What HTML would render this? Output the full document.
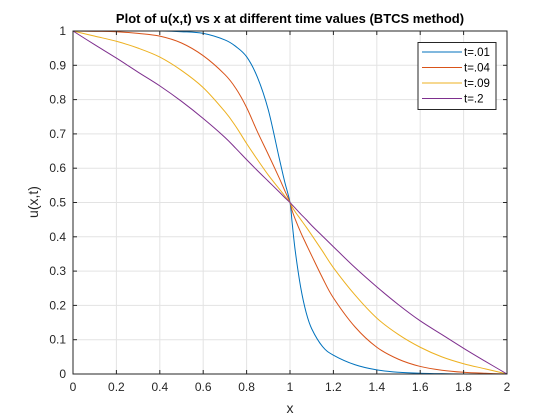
<!DOCTYPE html>
<html><head><meta charset="utf-8"><style>
body{margin:0;background:#fff;}
svg{display:block;font-family:"Liberation Sans",Arial,sans-serif;}
</style></head><body>
<svg id="chart" width="560" height="420" viewBox="0 0 560 420" xmlns="http://www.w3.org/2000/svg">
<rect width="560" height="420" fill="#fff"/>
<g id="grid"></g>
<g id="series"></g>
<g id="axes"></g>
<text x="290" y="23" text-anchor="middle" font-size="13" font-weight="bold" fill="#000">Plot of u(x,t) vs x at different time values (BTCS method)</text>
<text x="290" y="413" text-anchor="middle" font-size="14" fill="#262626">x</text>
<text transform="translate(38,202) rotate(-90)" text-anchor="middle" font-size="14" fill="#262626">u(x,t)</text>
<g id="legend"></g>
</svg>
<script>
const xs = [0,0.1,0.2,0.3,0.4,0.5,0.6,0.7,0.75,0.8,0.85,0.9,0.95,0.975,1,1.01,1.025,1.05,1.075,1.1,1.15,1.2,1.3,1.4,1.5,1.6,1.7,1.8,1.9,2];
const seriesNames = ["t=.01","t=.04","t=.09","t=.2"];
const u01 = [1,1,1,1,1,0.998,0.993,0.974,0.955,0.925,0.865,0.77,0.63,0.562,0.5,0.44,0.355,0.25,0.178,0.132,0.08,0.055,0.027,0.012,0.005,0.002,0.001,0,0,0];
const u04 = [1,0.999,0.998,0.993,0.985,0.965,0.928,0.873,0.833,0.777,0.706,0.64,0.572,0.536,0.5,0.476,0.45,0.412,0.378,0.345,0.28,0.222,0.137,0.078,0.043,0.022,0.011,0.005,0.002,0];
const u09 = [1,0.985,0.97,0.95,0.924,0.885,0.835,0.765,0.722,0.672,0.625,0.58,0.54,0.52,0.5,0.487,0.472,0.45,0.428,0.405,0.358,0.31,0.23,0.163,0.115,0.078,0.05,0.03,0.015,0];
const u2 = [1,0.96,0.921,0.88,0.84,0.795,0.745,0.69,0.658,0.625,0.593,0.562,0.531,0.515,0.5,0.493,0.483,0.466,0.45,0.433,0.402,0.371,0.31,0.254,0.202,0.155,0.115,0.075,0.037,0];
const xTicks = ["0","0.2","0.4","0.6","0.8","1","1.2","1.4","1.6","1.8","2"];
const yTicks = ["0","0.1","0.2","0.3","0.4","0.5","0.6","0.7","0.8","0.9","1"];

const L=73,R=507,T=31,B=374;
const sx=v=>L+(v-0)/(2-0)*(R-L);
const sy=v=>B-(v-0)/(1-0)*(B-T);
const NS='http://www.w3.org/2000/svg';
function mk(tag,parent){const e=document.createElementNS(NS,tag);parent.appendChild(e);return e;}
const grid=document.getElementById('grid'),axes=document.getElementById('axes'),ser=document.getElementById('series'),leg=document.getElementById('legend');

xTicks.forEach(t=>{
  const v=parseFloat(t),x=sx(v);
  const g=mk('line',grid);
  
  
  g.setAttribute('x1',x);g.setAttribute('x2',x);g.setAttribute('y1',T);g.setAttribute('y2',B);g.setAttribute('stroke','#e3e3e3');
  [[B,B-4],[T,T+4]].forEach(p=>{const k=mk('line',axes);
    
    
    k.setAttribute('x1',x);k.setAttribute('x2',x);k.setAttribute('y1',p[0]);k.setAttribute('y2',p[1]);k.setAttribute('stroke','#262626');});
  const tx=mk('text',axes);
  
  
  tx.setAttribute('x',x);tx.setAttribute('y',B+17);tx.setAttribute('text-anchor','middle');tx.setAttribute('font-size','12');tx.setAttribute('fill','#262626');tx.textContent=t;
});
yTicks.forEach(t=>{
  const v=parseFloat(t),y=sy(v);
  const g=mk('line',grid);
  
  
  g.setAttribute('x1',L);g.setAttribute('x2',R);g.setAttribute('y1',y);g.setAttribute('y2',y);g.setAttribute('stroke','#e3e3e3');
  [[L,L+4],[R,R-4]].forEach(p=>{const k=mk('line',axes);
    
    
    k.setAttribute('x1',p[0]);k.setAttribute('x2',p[1]);k.setAttribute('y1',y);k.setAttribute('y2',y);k.setAttribute('stroke','#262626');});
  const tx=mk('text',axes);
  
  
  tx.setAttribute('x',L-7);tx.setAttribute('y',y+4);tx.setAttribute('text-anchor','end');tx.setAttribute('font-size','12');tx.setAttribute('fill','#262626');tx.textContent=t;
});
const box=mk('rect',axes);


box.setAttribute('x',L);box.setAttribute('y',T);box.setAttribute('width',R-L);box.setAttribute('height',B-T);box.setAttribute('fill','none');box.setAttribute('stroke','#262626');

function smoothPath(pts){
  let d='M'+pts[0][0].toFixed(2)+','+pts[0][1].toFixed(2);
  for(let i=0;i<pts.length-1;i++){
    const p0=pts[Math.max(0,i-1)],p1=pts[i],p2=pts[i+1],p3=pts[Math.min(pts.length-1,i+2)];
    const c1x=p1[0]+(p2[0]-p0[0])/6,c1y=p1[1]+(p2[1]-p0[1])/6;
    const c2x=p2[0]-(p3[0]-p1[0])/6,c2y=p2[1]-(p3[1]-p1[1])/6;
    d+=' C'+c1x.toFixed(2)+','+c1y.toFixed(2)+' '+c2x.toFixed(2)+','+c2y.toFixed(2)+' '+p2[0].toFixed(2)+','+p2[1].toFixed(2);
  }
  return d;
}
const data=[u01,u04,u09,u2];
const colors=['#0072BD','#D95319','#EDB120','#7E2F8E'];
data.forEach((arr,i)=>{
  const p=mk('path',ser);
  
  
  p.setAttribute('d',smoothPath(arr.map((v,j)=>[sx(xs[j]),sy(v)])));
  p.setAttribute('fill','none');p.setAttribute('stroke',colors[i]);p.setAttribute('stroke-width','1');p.setAttribute('stroke-linejoin','round');
});

const lb=mk('rect',leg);


lb.setAttribute('x',418);lb.setAttribute('y',42.5);lb.setAttribute('width',78);lb.setAttribute('height',67);lb.setAttribute('fill','#fff');lb.setAttribute('stroke','#262626');
seriesNames.forEach((n,i)=>{
  const y=52+i*15.5;
  const l=mk('line',leg);
  
  
  l.setAttribute('x1',422);l.setAttribute('x2',462);l.setAttribute('y1',y);l.setAttribute('y2',y);l.setAttribute('stroke',colors[i]);
  const t=mk('text',leg);
  
  
  t.setAttribute('x',464);t.setAttribute('y',y+4);t.setAttribute('font-size','11.5');t.setAttribute('fill','#000');t.textContent=n;
});
</script>
</body></html>
